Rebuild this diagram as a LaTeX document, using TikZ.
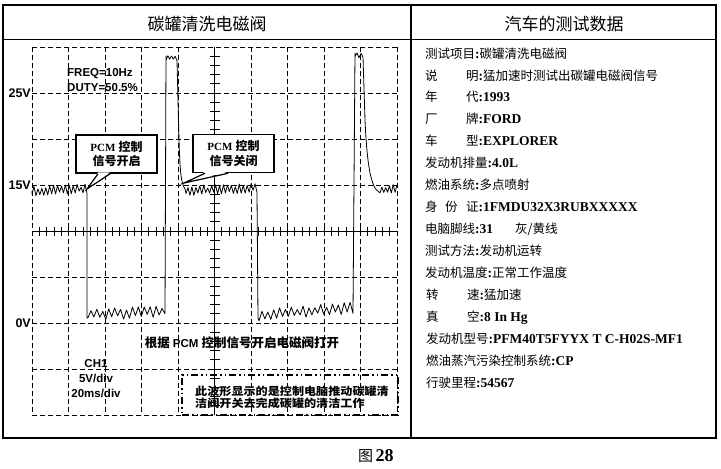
\documentclass[tikz,border=0pt]{standalone}
\usepackage{fontspec}
\setmainfont{Liberation Serif}
\setsansfont{Liberation Sans}
\newfontfamily\cjk{Noto Sans CJK SC}
\newcommand\zh[1]{{\cjk\mdseries #1}}
\newcommand\zhb[1]{{\cjk\bfseries #1}}
\newcommand\rv[1]{{\rmfamily\bfseries\fontsize{13.5}{15}\selectfont #1}}
% noise segment: x0, x1, base0, base1, N, N+1, amplitude
\newcommand\nz[7]{-- plot[domain=0:#5, samples=#6] ({#1+\x*(#2-#1)/#5}, {#3+\x*(#4-#3)/#5+(#7)*(0.35+0.65*rnd)*cos(180*\x)})}
\begin{document}
\begin{tikzpicture}[x=1pt,y=-1pt,
  frame/.style={line width=1.8pt},
  gridline/.style={line width=0.7pt, dash pattern=on 5pt off 3pt},
  axisline/.style={line width=1pt},
  tick/.style={line width=0.8pt},
  wave/.style={line width=0.8pt, line join=round},
  title/.style={inner sep=0pt, font=\cjk\fontsize{17}{19}\selectfont},
  volt/.style={anchor=east, inner sep=1pt, font=\sffamily\bfseries\fontsize{12.5}{14}\selectfont},
  sfnote/.style={inner sep=0pt, align=left, font=\sffamily\bfseries\fontsize{11.5}{15}\selectfont},
  callout/.style={draw, line width=1.6pt, fill=white, align=center, inner sep=2pt,
    minimum width=81pt, minimum height=38pt, font=\fontsize{12}{14.5}\selectfont},
  notebox/.style={draw, line width=1.6pt, minimum width=216pt, minimum height=40pt,
    dash pattern=on 7pt off 3pt on 1.5pt off 3pt on 1.5pt off 3pt},
  rtext/.style={anchor=base west, inner sep=0pt, font=\fontsize{12.5}{15}\selectfont},
]
\useasboundingbox (0,0) rectangle (721,469);
\pgfmathsetseed{12}

% frame
\draw[frame] (3,5) rectangle (716,438);
\draw[frame] (3,39.5) -- (716,39.5);
\draw[frame] (411,5) -- (411,438);
\node[title] (ltitle) at (207,24.5) {碳罐清洗电磁阀};
\node[title] (rtitle) at (564,24) {汽车的测试数据};

% grid
\foreach \i in {0,...,10} \draw[gridline] ({32+36.5*\i},47) -- ({32+36.5*\i},415);
\foreach \j in {0,...,8} \draw[gridline] (32,{47+46*\j}) -- (397,{47+46*\j});
\draw[axisline] (32,231) -- (397,231);
\draw[axisline] (214.5,47) -- (214.5,415);
\foreach \k in {1,...,49} \draw[tick] ({32+7.3*\k},226.5) -- ({32+7.3*\k},235.5);
\foreach \k in {1,...,39} \draw[tick] (209.5,{47+9.2*\k}) -- (219.5,{47+9.2*\k});

% labels
\node[volt] (v25) at (32,93) {25V};
\node[volt] (v15) at (32,185) {15V};
\node[volt] (v0) at (32,323) {0V};
\node[sfnote, anchor=west] (freq) at (67,80.5) {FREQ=10Hz\\DUTY=50.5\%};

% waveform
\draw[wave] (32,191) \nz{32}{87}{191}{189}{28}{29}{5} -- (87,318)
  \nz{88}{165}{315}{311}{26}{27}{6} -- (166,56)
  \nz{166}{177}{57}{58}{6}{7}{3} -- (179,140) .. controls (180,172) and (181,183) .. (185,189)
  \nz{186}{257}{191}{188}{36}{37}{5} -- (258,318)
  \nz{259}{353}{315}{308}{32}{33}{6} -- (355,53)
  \nz{355}{363}{55}{56}{4}{5}{3} -- (365,120) .. controls (367,165) and (371,188) .. (379,192)
  \nz{380}{397}{191}{188}{9}{10}{4};

% callouts
\node[callout] (c1) at (116.5,154) {{\rmfamily\bfseries\fontsize{11}{14}\selectfont PCM} \zhb{控制}\\\zhb{信号开启}};
\coordinate (t1) at (87,189);
\fill[white] ([xshift=-18.5pt,yshift=1.5pt]c1.south) -- (t1) -- ([xshift=-6.5pt,yshift=1.5pt]c1.south) -- cycle;
\draw[line width=1.2pt] ([xshift=-18.5pt]c1.south) -- (t1) -- ([xshift=-6.5pt]c1.south);

\node[callout] (c2) at (233.5,153.5) {{\rmfamily\bfseries\fontsize{11}{14}\selectfont PCM} \zhb{控制}\\\zhb{信号关闭}};
\coordinate (t2) at (184,183);
\fill[white] ([xshift=-28.5pt,yshift=1.5pt]c2.south) -- (t2) -- ([xshift=-5.5pt,yshift=1.5pt]c2.south) -- cycle;
\draw[line width=1.2pt] ([xshift=-28.5pt]c2.south) -- (t2) -- ([xshift=-5.5pt]c2.south);

% bottom annotations
\node[inner sep=1pt, font=\fontsize{12.5}{14}\selectfont] (open) at (242,343)
  {\zhb{根据} {\sffamily\bfseries\fontsize{11.5}{14}\selectfont PCM} \zhb{控制信号开启电磁阀打开}};
\node[sfnote, align=center] (ch) at (96,379) {CH1\\5V/div\\20ms/div};
\node[notebox] (nb) at (290,395) {};
\node[anchor=west, inner sep=0pt, align=left, xscale=1.1, font=\fontsize{11}{11.5}\selectfont] (nt) at (195,397.5)
  {\zhb{此波形显示的是控制电脑推动碳罐清}\\\zhb{洁阀开关去完成碳罐的清洁工作}};

% caption
\node[inner sep=0pt, anchor=base west] (cap) at (358,461) {{\cjk\fontsize{15}{16}\selectfont 图} {\rmfamily\bfseries\fontsize{18}{19}\selectfont 28}};

% right panel
\node[rtext] (r0) at (425,58.0) {\zh{测试项目}\rv{:}\zh{碳罐清洗电磁阀}};
\node[rtext] (r1a) at (425,80.0) {\zh{说}};
\node[rtext] (r1b) at (466,80.0) {\zh{明}\rv{:}\zh{猛加速时测试出碳罐电磁阀信号}};
\node[rtext] (r2a) at (425,101.9) {\zh{年}};
\node[rtext] (r2b) at (466,101.9) {\zh{代}\rv{:1993}};
\node[rtext] (r3a) at (425,123.9) {\zh{厂}};
\node[rtext] (r3b) at (466,123.9) {\zh{牌}\rv{:FORD}};
\node[rtext] (r4a) at (425,145.9) {\zh{车}};
\node[rtext] (r4b) at (466,145.9) {\zh{型}\rv{:EXPLORER}};
\node[rtext] (r5) at (425,167.9) {\zh{发动机排量}\rv{:4.0L}};
\node[rtext] (r6) at (425,189.8) {\zh{燃油系统}\rv{:}\zh{多点喷射}};
\node[rtext] (r7a) at (425,211.8) {\zh{身}};
\node[rtext] (r7b) at (445,211.8) {\zh{份}};
\node[rtext] (r7c) at (466,211.8) {\zh{证}\rv{:1FMDU32X3RUBXXXXX}};
\node[rtext] (r8a) at (425,233.8) {\zh{电脑脚线}\rv{:31}};
\node[rtext] (r8b) at (515,233.8) {\zh{灰/黄线}};
\node[rtext] (r9) at (425,255.7) {\zh{测试方法}\rv{:}\zh{发动机运转}};
\node[rtext] (r10) at (425,277.7) {\zh{发动机温度}\rv{:}\zh{正常工作温度}};
\node[rtext] (r11a) at (426,299.7) {\zh{转}};
\node[rtext] (r11b) at (467,299.7) {\zh{速}\rv{:}\zh{猛加速}};
\node[rtext] (r12a) at (426,321.6) {\zh{真}};
\node[rtext] (r12b) at (467,321.6) {\zh{空}\rv{:8 In Hg}};
\node[rtext] (r13) at (426,343.6) {\zh{发动机型号}\rv{:PFM40T5FYYX T C-H02S-MF1}};
\node[rtext] (r14) at (426,365.6) {\zh{燃油蒸汽污染控制系统}\rv{:CP}};
\node[rtext] (r15) at (426,387.6) {\zh{行驶里程}\rv{:54567}};
\end{tikzpicture}
\end{document}
